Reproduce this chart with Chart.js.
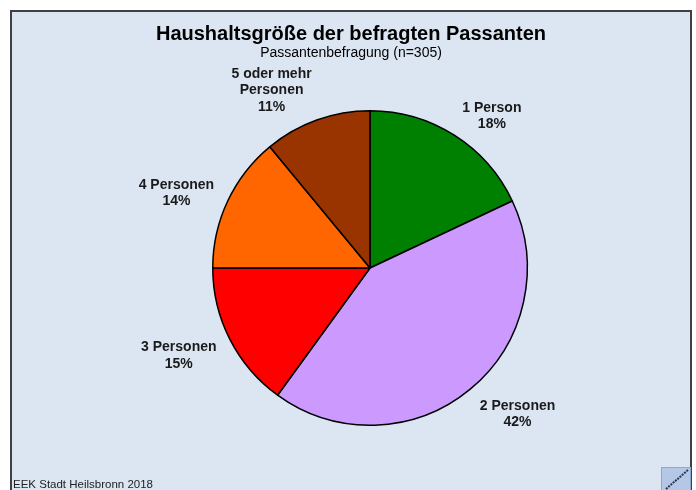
<!DOCTYPE html>
<html>
<head>
<meta charset="utf-8">
<script src="https://cdn.jsdelivr.net/npm/chart.js@4"></script>
<style>
html,body{margin:0;padding:0;background:#fff;}
#wrap{width:696px;height:490px;}
</style>
</head>
<body>
<div id="wrap"><canvas id="c" width="696" height="490"></canvas></div>
<script>
const titleText = "Haushaltsgröße der befragten Passanten";
const subtitleText = "Passantenbefragung (n=305)";
const footerText = "EEK Stadt Heilsbronn 2018";
const categories = [["1 Person"], ["2 Personen"], ["3 Personen"], ["4 Personen"], ["5 oder mehr", "Personen"]];
const percentValues = [18, 42, 15, 14, 11];
const sliceColors = ["#008000", "#cc99ff", "#ff0000", "#ff6600", "#993300"];

const FONT = "'Liberation Sans', Arial, sans-serif";

const framePlugin = {
  id: 'frame',
  beforeDraw(chart) {
    const ctx = chart.ctx;
    ctx.save();
    ctx.fillStyle = '#ffffff';
    ctx.fillRect(0, 0, chart.width, chart.height);
    ctx.fillStyle = '#dce6f2';
    ctx.fillRect(11, 11, 680, 485);
    ctx.strokeStyle = '#404040';
    ctx.lineWidth = 2;
    ctx.strokeRect(11, 11, 680, 485);
    ctx.restore();
  },
  afterDraw(chart) {
    const ctx = chart.ctx;
    ctx.save();
    ctx.fillStyle = '#000';
    ctx.textAlign = 'center';
    ctx.textBaseline = 'alphabetic';
    ctx.font = 'bold 20px ' + FONT;
    ctx.fillText(titleText, 351, 40);
    ctx.font = '14px ' + FONT;
    ctx.fillText(subtitleText, 351, 57);
    ctx.textAlign = 'left';
    ctx.font = '11.5px ' + FONT;
    ctx.fillStyle = '#222';
    ctx.fillText(footerText, 13, 488);
    // small logo
    ctx.fillStyle = '#b4c7e7';
    ctx.fillRect(661, 467, 29, 25);
    ctx.strokeStyle = '#8fa8d0';
    ctx.lineWidth = 1;
    ctx.strokeRect(661.5, 467.5, 29, 25);
    ctx.strokeStyle = '#2a3550';
    ctx.lineWidth = 2;
    ctx.setLineDash([2, 1]);
    ctx.beginPath();
    ctx.moveTo(666, 489);
    ctx.lineTo(688, 470);
    ctx.stroke();
    ctx.setLineDash([]);

    // slice labels, outside end
    const meta = chart.getDatasetMeta(0);
    ctx.font = 'bold 14px ' + FONT;
    ctx.fillStyle = '#1a1a1a';
    ctx.textAlign = 'center';
    ctx.textBaseline = 'middle';
    const lh = 16.5;
    meta.data.forEach((arc, i) => {
      const p = arc.getProps(['x', 'y', 'startAngle', 'endAngle', 'outerRadius'], true);
      const mid = (p.startAngle + p.endAngle) / 2;
      const cs = Math.cos(mid), sn = Math.sin(mid);
      const px = p.x + (p.outerRadius + 15) * cs;
      const py = p.y + (p.outerRadius + 11) * sn;
      const lines = categories[i].concat([percentValues[i] + '%']);
      let w = 0;
      lines.forEach(l => { w = Math.max(w, ctx.measureText(l).width); });
      const h = lines.length * lh;
      const cx = cs >= 0 ? px + w / 2 : px - w / 2;
      const cy = py + sn * h / 2 + 4;
      lines.forEach((l, k) => {
        ctx.fillText(l, cx, cy - h / 2 + lh * (k + 0.5));
      });
    });
    ctx.restore();
  }
};

new Chart(document.getElementById('c'), {
  type: 'pie',
  data: {
    labels: categories.map(c => c.join(' ')),
    datasets: [{
      data: percentValues,
      backgroundColor: sliceColors,
      borderColor: '#000000',
      borderWidth: 1.5
    }]
  },
  options: {
    responsive: false,
    animation: false,
    devicePixelRatio: 1,
    rotation: 0,
    layout: { padding: { top: 110, bottom: 64, left: 60, right: 16 } },
    plugins: {
      legend: { display: false },
      title: { display: false },
      tooltip: { enabled: false }
    }
  },
  plugins: [framePlugin]
});
</script>
</body>
</html>
